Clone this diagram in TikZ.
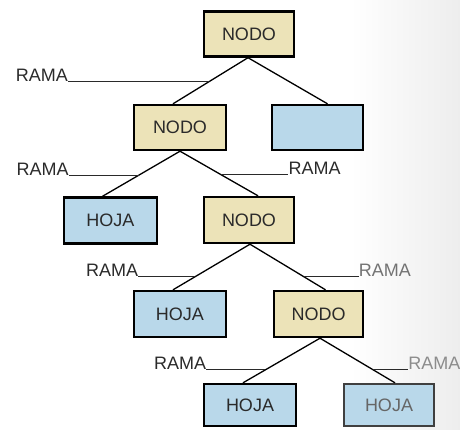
\documentclass[tikz,border=0pt]{standalone}
\usepackage{fontspec}
\setmainfont{Liberation Sans}
\usetikzlibrary{calc}
\definecolor{tan}{HTML}{ECE3B8}
\definecolor{sky}{HTML}{B9D8EA}
\definecolor{ink}{HTML}{2A2A2A}
\begin{document}
\begin{tikzpicture}[x=1pt,y=-1pt,
  box/.style={draw=black, line width=2.4pt, inner sep=0pt, font=\fontsize{18}{21}\selectfont, text=ink},
  nodo/.style={box, fill=tan},
  hoja/.style={box, fill=sky},
  br/.style={line width=1.3pt, black},
  lbl/.style={inner sep=0pt, font=\fontsize{18}{21}\selectfont, text=ink},
  tick/.style={line width=0.9pt, ink}]
\useasboundingbox (0,0) rectangle (460,429);
\shade[left color=white, right color=black!7] (350,0) rectangle (460,429);
% boxes
\node[nodo, minimum width=90pt, minimum height=45pt] (n1) at (249,34) {NODO};
\node[nodo, minimum width=92pt, minimum height=45pt] (n2) at (180,127.5) {NODO};
\node[hoja, minimum width=91pt, minimum height=45pt] (b2) at (317.5,127.5) {};
\node[hoja, minimum width=93pt, minimum height=46pt] (h3) at (110.5,220.5) {HOJA};
\node[nodo, minimum width=90pt, minimum height=46pt] (n3) at (249,220) {NODO};
\node[hoja, minimum width=92pt, minimum height=46pt] (h4) at (180,314) {HOJA};
\node[nodo, minimum width=89pt, minimum height=46pt] (n4) at (318.5,314) {NODO};
\node[hoja, minimum width=92pt, minimum height=42pt] (h5) at (250,405) {HOJA};
\node[hoja, minimum width=90pt, minimum height=42pt, draw=black!75, text=black!60] (h6) at (389,405) {HOJA};
% branches
\draw[br] ([xshift=-1pt]n1.south) -- coordinate[pos=0.52](r1) ([xshift=-7pt]n2.north);
\draw[br] ([xshift=-1pt]n1.south) -- ([xshift=10pt]b2.north);
\draw[br] (n2.south) -- coordinate[pos=0.53](r2) ([xshift=-8pt]h3.north);
\draw[br] (n2.south) -- coordinate[pos=0.53](r3) ([xshift=9pt]n3.north);
\draw[br] ([xshift=1pt]n3.south) -- coordinate[pos=0.71](r4) ([xshift=-7pt]h4.north);
\draw[br] ([xshift=1pt]n3.south) -- coordinate[pos=0.71](r5) ([xshift=7pt]n4.north);
\draw[br] ([xshift=1.5pt]n4.south) -- coordinate[pos=0.71](r6) ([xshift=-7pt]h5.north);
\draw[br] ([xshift=1.5pt]n4.south) -- coordinate[pos=0.71](r7) ([xshift=6pt]h6.north);
% labels
\node[lbl, anchor=base east] (l1) at ([xshift=-141pt]r1) {RAMA};
\draw[tick] (l1.base east) -- (r1);
\node[lbl, anchor=base east] (l2) at ([xshift=-70pt]r2) {RAMA};
\draw[tick] (l2.base east) -- (r2);
\node[lbl, anchor=base west] (l3) at ([xshift=67pt]r3) {RAMA};
\draw[tick] (r3) -- (l3.base west);
\node[lbl, anchor=base east] (l4) at ([xshift=-57pt]r4) {RAMA};
\draw[tick] (l4.base east) -- (r4);
\node[lbl, anchor=base west, text=black!55] (l5) at ([xshift=55pt]r5) {RAMA};
\draw[tick] (r5) -- (l5.base west);
\node[lbl, anchor=base east] (l6) at ([xshift=-59pt]r6) {RAMA};
\draw[tick] (l6.base east) -- (r6);
\node[lbl, anchor=base west, text=black!45] (l7) at ([xshift=35pt]r7) {RAMA};
\draw[tick] (r7) -- (l7.base west);
\end{tikzpicture}
\end{document}
